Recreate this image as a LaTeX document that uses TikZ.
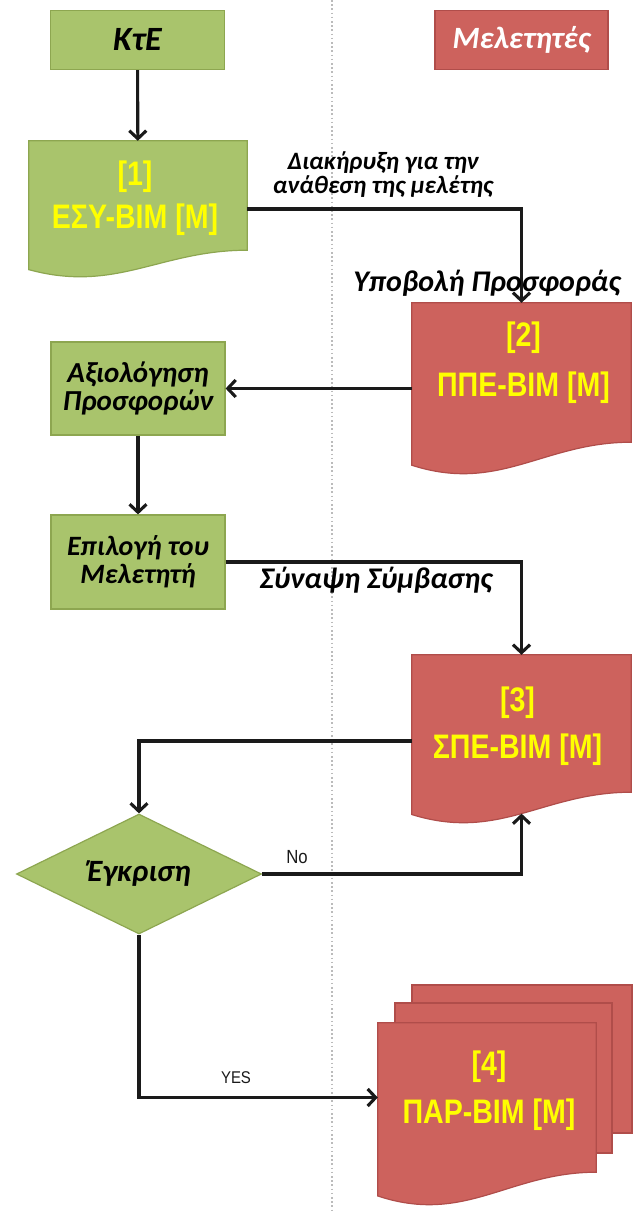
\documentclass[tikz,border=0pt]{standalone}
\usepackage{fontspec}
\setmainfont{Carlito}
\newfontfamily\yfont[FakeStretch=0.84,BoldFont={Liberation Sans Bold}]{Liberation Sans}
\newfontfamily\lblfont[FakeStretch=0.88]{Liberation Sans}
\usetikzlibrary{shapes.geometric,arrows.meta,calc}
\definecolor{gfill}{HTML}{A9C46C}
\definecolor{gline}{HTML}{8DA650}
\definecolor{rfill}{HTML}{CD625D}
\definecolor{rline}{HTML}{B04D4A}
\definecolor{ylw}{HTML}{FFFF00}
\definecolor{ink}{HTML}{1A1A1A}
\definecolor{sepgray}{HTML}{BBBBBB}
\newcommand{\docshape}[3]{%
  \filldraw[#2] let \p1=(#1.south west), \p2=(#1.north east) in
    (\x1,\y2) -- (\x2,\y2) -- (\x2,\y1)
    .. controls ({\x1+0.6*(\x2-\x1)},\y1) and ({\x1+0.4*(\x2-\x1)},{\y1-1.6*#3pt}) ..
    coordinate[pos=0.5] (#1-w) (\x1,{\y1-0.72*#3pt}) -- cycle;}
\tikzset{
  gbox/.style={rectangle, fill=gfill, draw=gline, line width=1.2pt, inner sep=0pt, align=center, text=black},
  rbox/.style={rectangle, fill=rfill, draw=rline, line width=1.2pt, inner sep=0pt, align=center},
  docframe/.style={rectangle, draw=none, fill=none, inner sep=0pt},
  gdoc/.style={fill=gfill, draw=gline, line width=1.2pt},
  rdoc/.style={fill=rfill, draw=rline, line width=1.2pt},
  ytext/.style={align=center, text=ylw, inner sep=0pt},
  titlefont/.style={font=\fontsize{34}{40}\selectfont\bfseries\itshape},
  flowlabel/.style={text=black, align=center, inner sep=0pt},
  arr/.style={draw=ink, line width=3.1pt, -{Straight Barb[length=8pt,width=17pt]}},
  sepline/.style={draw=sepgray, line width=1.4pt, dash pattern=on 1.6pt off 2.6pt}
}
\begin{document}
\begin{tikzpicture}[x=1pt,y=-1pt]
\useasboundingbox (0,0) rectangle (635,1211);
\fill[white] (0,0) rectangle (635,1211);
\coordinate (septop) at (332,0);
\coordinate (sepbot) at (332,1211);
\draw[sepline] (septop) -- (sepbot);

% headers
\node[gbox, titlefont, minimum width=174pt, minimum height=59pt] (kte) at (137.5,40) {ΚτΕ};
\node[rbox, font=\fontsize{31}{36}\selectfont\bfseries\itshape, text=white, minimum width=173pt, minimum height=59pt] (mel) at (521.5,40) {Μελετητές};

% document 1
\node[docframe, minimum width=218pt, minimum height=109pt] (d1) at (138,195.5) {};
\docshape{d1}{gdoc}{27}
\node[ytext, font=\fontsize{34}{43}\selectfont\yfont\bfseries] (t1) at ([xshift=-3pt,yshift=-3pt]d1.center) {[1]\\ΕΣΥ-BIM [M]};

% document 2
\node[docframe, minimum width=219pt, minimum height=139pt] (d2) at (521.5,372.5) {};
\docshape{d2}{rdoc}{32}
\node[ytext, font=\fontsize{34}{50}\selectfont\yfont\bfseries] (t2) at ([xshift=2pt,yshift=9.5pt]d2.center) {[2]\\ΠΠΕ-BIM [M]};

% document 3
\node[docframe, minimum width=219pt, minimum height=137pt] (d3) at (521.5,723.5) {};
\docshape{d3}{rdoc}{31}
\node[ytext, font=\fontsize{34}{47}\selectfont\yfont\bfseries] (t3) at ([xshift=-4pt,yshift=-3pt]d3.center) {[3]\\ΣΠΕ-BIM [M]};

% document stack 4
\node[rbox, minimum width=220pt, minimum height=148pt] (d4b) at (522,1059) {};
\node[rbox, minimum width=217pt, minimum height=150pt] (d4m) at (503.5,1078) {};
\node[docframe, minimum width=218pt, minimum height=149pt] (d4) at (487,1097.5) {};
\docshape{d4}{rdoc}{33}
\node[ytext, font=\fontsize{34}{48}\selectfont\yfont\bfseries] (t4) at ([xshift=2pt,yshift=6.5pt]d4.center) {[4]\\ΠΑΡ-BIM [M]};

% process boxes
\node[gbox, font=\fontsize{29}{28}\selectfont\bfseries\itshape, minimum width=174pt, minimum height=93pt] (aks) at (138,388.5) {Αξιολόγηση\\Προσφορών};
\node[gbox, font=\fontsize{28}{28}\selectfont\bfseries\itshape, minimum width=174pt, minimum height=94pt] (ep) at (138,562) {Επιλογή του\\Μελετητή};
\node[diamond, aspect=2, fill=gfill, draw=gline, line width=1.2pt, inner sep=0pt, minimum width=245pt, minimum height=120pt, font=\fontsize{31}{34}\selectfont\bfseries\itshape] (dia) at (139,874) {Έγκριση};

% connectors
\draw[arr] (kte) -- (d1);
\draw[arr] ([yshift=-13.5pt]d1.east) -| (d2.north);
\draw[arr] (d2.west |- aks.east) -- (aks.east);
\draw[arr] (aks) -- (ep);
\draw[arr] (ep.east) -| (d3.north);
\draw[arr] ([yshift=-17.5pt]d3.west) -| (dia.north);
\draw[arr] (dia.east) -| (d3-w);
\draw[arr] (dia.south) |- (d4.west);

% labels
\node[flowlabel, font=\fontsize{25}{24}\selectfont\bfseries\itshape] (l1) at (383,175) {Διακήρυξη για την\\ανάθεση της μελέτης};
\node[flowlabel, font=\fontsize{30}{30}\selectfont\bfseries\itshape] (l2) at (487,283) {Υποβολή Προσφοράς};
\node[flowlabel, font=\fontsize{30}{30}\selectfont\bfseries\itshape] (l3) at (376,580) {Σύναψη Σύμβασης};
\node[flowlabel, font=\fontsize{19}{22}\selectfont\lblfont, text=ink] (lno) at (297,857) {No};
\node[flowlabel, font=\fontsize{17}{20}\selectfont\lblfont, text=ink] (lyes) at (236,1078) {YES};
\end{tikzpicture}
\end{document}
